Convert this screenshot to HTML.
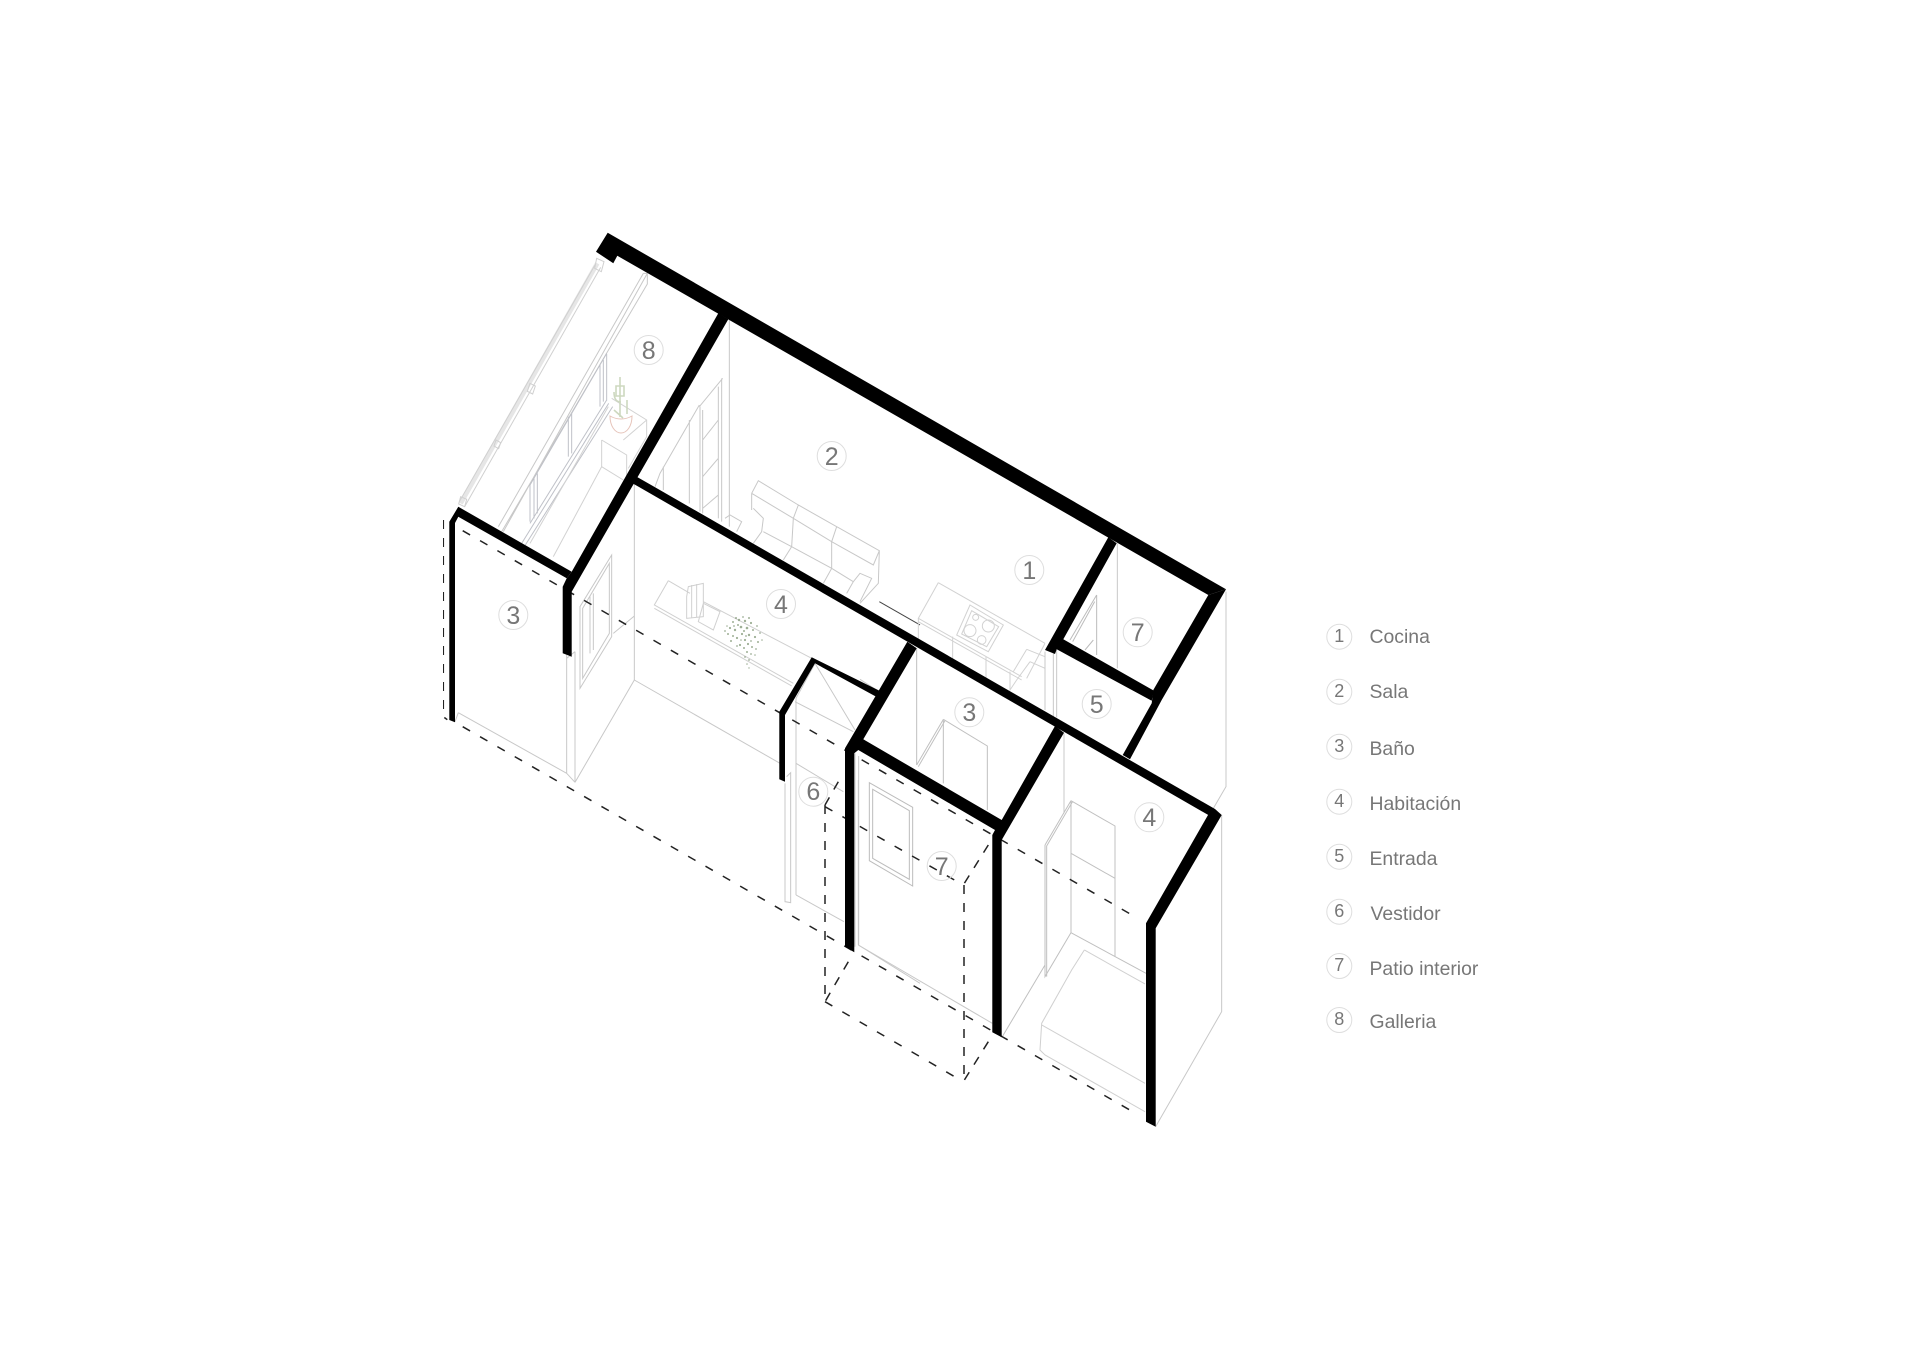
<!DOCTYPE html>
<html lang="es"><head><meta charset="utf-8"><title>Axonometría</title>
<style>html,body{margin:0;padding:0;background:#fff}svg{display:block}text{font-family:"Liberation Sans",sans-serif;fill:#777}</style>
</head><body>
<svg width="1920" height="1361" viewBox="0 0 1920 1361" xmlns="http://www.w3.org/2000/svg">
<defs><filter id="b" x="0" y="0" width="100%" height="100%"><feGaussianBlur stdDeviation="0.35"/></filter></defs>
<rect width="1920" height="1361" fill="#fff"/>
<g filter="url(#b)">
<!-- thin lines: region 1 -->
<g transform="translate(420 210) scale(.33333)" fill="none" stroke="#c8c8c8" stroke-width="3">
<path d="M532 160L122 880" stroke="#e6e6e6" stroke-width="14"/><path d="M525 165L118 875M542 172L134 890" stroke="#d0d0d0"/>
<path d="M530 145l22 10-8 30-20-10zM330 520l16 8-8 24-16-8zM228 690l14 8-6 18-14-8zM122 860l18 8-6 22-18-8z" stroke="#d0d0d0"/>
<path d="M670 190L235 950M682 190L250 965M670 190h12v32L245 965"/>
<path d="M560 430L330 825M560 570L330 940M566 580L305 1000M578 590L316 1005M540 465v125M550 450v125M560 432v140M445 620v120M455 610v120M330 825v110M342 805v120M352 790v120" stroke="#bfc1c8"/>
<path d="M575 565L680 630V680L625 775M545 690L620 735V800M545 690V770L610 810M545 770L400 1040M565 590L330 1000M610 690L680 630" stroke="#d2d2d2"/>
<path d="M928 328V950M905 505V935M895 530V925M840 590V905M848 600V910M838 590L908 505M848 690L895 630M848 800L895 745M848 895L895 855M838 585L720 790L705 830M808 630V880M730 770V840"/>
<path d="M995 850L1015 812L1135 885L1250 950L1378 1022L1360 1065L1235 995L1120 925L995 850M1135 885L1120 925M1250 950L1235 995M995 850V900M1120 925L1115 1010M1235 995V1075M1378 1022L1375 1120L1320 1180M915 925L930 915L965 935L950 965M1000 895L1030 925L1025 965L1000 1000M1030 965L1115 1010L1235 1075L1300 1115M1115 1010L1090 1050M1235 1075L1210 1120M1300 1115L1320 1090L1355 1105L1320 1175M1300 1115L1280 1150"/>
<path d="M1378 1175L1500 1245" stroke="#444"/>
<path d="M643 820V1410M643 1218L580 1270M575 1035V1280L480 1435V1190ZM568 1060V1270L488 1405V1195ZM510 1160V1330M520 1150V1320"/>
<path d="M745 1112L703 1185L1120 1420M745 1112L810 1150M850 1175L1175 1345M703 1195L1115 1428M805 1130L850 1120V1220L800 1225V1160ZM815 1125V1225M830 1122V1222M850 1180L900 1205L880 1260L835 1235Z" stroke="#d0d0d0"/>
</g>
<!-- cactus and pot -->
<g fill="none">
<path d="M620 377V417M614 392c0 8 3 10 7 10M627 400v14M614 410l9 8M616 386h8v10h-8z" stroke="#cdd8bf" stroke-width="1.6"/>
<path d="M610 416c0 10 5 17 11 17s11-7 11-17c-7 4-15 4-22 0z" stroke="#e6c4ba" stroke-width="1"/>
</g>
<!-- hanging plant -->
<g fill="#8ea284" stroke="none" opacity=".85">
<circle cx="728" cy="634" r="1"/><circle cx="730" cy="628" r="1.1"/><circle cx="733" cy="622" r="1"/><circle cx="735" cy="630" r="1.2"/><circle cx="737" cy="638" r="1.1"/><circle cx="733" cy="636" r="1"/><circle cx="739" cy="620" r="1.2"/><circle cx="741" cy="627" r="1.3"/><circle cx="742" cy="634" r="1.1"/><circle cx="745" cy="621" r="1.2"/><circle cx="747" cy="628" r="1.3"/><circle cx="745" cy="640" r="1.1"/><circle cx="749" cy="635" r="1.2"/><circle cx="751" cy="623" r="1.1"/><circle cx="753" cy="630" r="1"/><circle cx="755" cy="637" r="1.1"/><circle cx="757" cy="626" r="0.9"/><circle cx="760" cy="633" r="0.9"/><circle cx="758" cy="642" r="1"/><circle cx="762" cy="640" r="0.8"/><circle cx="736" cy="618" r="1"/><circle cx="743" cy="617" r="0.9"/><circle cx="749" cy="618" r="1"/><circle cx="725" cy="631" r="0.9"/><circle cx="731" cy="641" r="1"/><circle cx="740" cy="645" r="1.1"/><circle cx="744" cy="648" r="1"/><circle cx="748" cy="644" r="1.1"/><circle cx="752" cy="647" r="1"/><circle cx="756" cy="649" r="0.9"/><circle cx="737" cy="646" r="0.9"/><circle cx="747" cy="652" r="1"/><circle cx="751" cy="654" r="0.9"/><circle cx="755" cy="655" r="0.8"/><circle cx="745" cy="657" r="0.9"/><circle cx="749" cy="660" r="0.9"/><circle cx="747" cy="664" r="0.8"/><circle cx="749" cy="668" r="0.7"/><circle cx="738" cy="625" r="1"/><circle cx="744" cy="631" r="1"/><circle cx="751" cy="641" r="0.9"/><circle cx="727" cy="626" r="0.8"/><circle cx="734" cy="626" r="0.9"/><circle cx="746" cy="636" r="0.9"/><circle cx="741" cy="640" r="0.8"/>
</g>
<!-- thin lines: region 2 -->
<g transform="translate(800 480) scale(.33333)" fill="none" stroke="#c8c8c8" stroke-width="3">
<path d="M415 308L355 415L665 590M415 308L735 490M355 425L665 600M355 415V480M458 470V560M558 530V610M630 575V630L650 600M510 375L610 435L565 515L470 465ZM515 392L596 440L560 500L485 462Z" stroke="#d2d2d2"/>
<g stroke="#d2d2d2"><circle cx="527" cy="412" r="9"/><circle cx="510" cy="452" r="18"/><circle cx="565" cy="438" r="18"/><circle cx="545" cy="480" r="13"/></g>
<path d="M735 490L680 595M680 508L640 575M680 508L735 530M690 545L650 600M690 545L735 565" stroke="#d2d2d2"/>
<path d="M735 515V690M760 520V710M770 510V712M952 190V565"/>
<path d="M890 345V525M890 345L810 480M884 365L818 485M880 480L855 510" stroke="#bcbcbc"/>
<path d="M1278 335V920L1240 985"/>
<path d="M350 505V855M430 718V910M430 718L350 855M435 722L355 860M430 718L562 798V990" stroke="#c0c0c0"/>
<path d="M792 760V1000"/>
</g>
<!-- thin lines: region 4 (lower right) -->
<g transform="translate(800 780) scale(.33333)" fill="none" stroke="#c8c8c8" stroke-width="3">
<path d="M813 62V458M813 62L945 138V530M813 220L945 295M735 195L813 62M740 198L817 66M735 195V590L813 458M740 197V590M813 458L1038 580M735 555L607 770" stroke="#c0c0c0"/>
<path d="M853 510L1035 612M853 510L815 570L725 730L720 810L735 825L1035 995M725 735L1035 910" stroke="#d0d0d0"/>
<path d="M1265 105V695L1067 1040"/>
<path d="M175 0V495M165 0V500M175 495L577 730"/>
<path d="M208 8L338 82V318L208 242ZM218 28L328 92V298L218 235Z" stroke="#bcbcbc"/>
</g>
<!-- thin lines: region 3 (lower left) -->
<g transform="translate(420 620) scale(.33333)" fill="none" stroke="#c8c8c8" stroke-width="3">
<path d="M115 278L440 460M115 278L105 305M440 100V460L465 487M465 95V487M440 115L465 95M465 487L643 180M643 180L1080 430"/>
<path d="M1185 130L1305 330M1128 235V825M1128 235L1185 130M1128 430L1270 515M1128 825L1272 905M1095 490V845L1112 848V458L1100 470M1125 245L1300 335M1320 178L1370 210L1365 220"/>
<path d="M1305 400V980M1316 408V975M1315 975L1500 1090"/>
</g>
<!-- dashed -->
<g fill="none" stroke="#222" stroke-width="1.5">
<path d="M443.3 520V716.7l4 3" stroke-dasharray="9 9"/>
<path d="M462.7 530.7L1135 916.7" stroke-dasharray="8.5 11.5"/>
<path d="M462.7 726.7L1135 1113" stroke-dasharray="8.5 11.5"/>
<path d="M825 806.7L963.3 885" stroke-dasharray="8.5 11.5"/>
<path d="M825 1001.7L963.3 1081.7" stroke-dasharray="8.5 11.5"/>
<path d="M825 805V1001" stroke-dasharray="9 9"/>
<path d="M964 885V1081" stroke-dasharray="9 9"/>
<path d="M988.3 845L963.3 885M988.3 1041.7L963.3 1081.7M838.3 781.7L825 805M848.3 961.7L825 1001.7" stroke-dasharray="9 9"/>
</g>
<!-- black walls -->
<g fill="#000">
<polygon points="607.7,232.7 1226,589.3 1208.3,595 617.3,255.7 613.3,263.3 596,251.7"/>
<polygon points="1226,589.3 1161.7,700 1130,759.3 1122.7,755 1151.7,703.3 1153.3,690 1208.3,595"/>
<polygon points="1108.3,537.3 1116.7,543.3 1063.3,639.3 1154,690.7 1151.7,700.7 1056.7,649.3 1055,654 1045,650"/>
<polygon points="636.7,476.7 1215,809 1221.7,815 1208.3,815 633.3,483.7"/>
<polygon points="718.3,313.3 728.3,319.3 571.7,591.7 571.7,656.7 562.7,653.3 562.7,586.7 566.7,578.3 571.7,571.7"/>
<polygon points="458.3,506.7 571.7,571.7 566.7,578.3 458.3,516.7 455,523 455,722.3 449.3,720 449.3,521.7"/>
<polygon points="811.7,657.3 880,691 876.7,697 815,663.3 785,715 785,781.7 779.3,779.3 779.3,711.7"/>
<polygon points="907.3,641.7 916.7,648.3 863.3,739.3 1001.7,820 1055,726 1064,732.7 1001.7,840 1001.7,1037.3 992.3,1032.3 992.3,835 995,830 858.3,750 854.3,753.3 854.3,952.3 845,946.7 845,748.3"/>
<polygon points="1221.7,815 1208.3,814.5 1146,923.3 1146,1121.7 1155.7,1126.7 1155.7,928.3"/>
</g>
<!-- label circles -->
<g fill="none" stroke="#dedede" stroke-width="1">
<circle cx="648.7" cy="350" r="14.5"/><circle cx="831.7" cy="456" r="14.5"/><circle cx="513.3" cy="615" r="14.5"/><circle cx="781" cy="604" r="14.5"/><circle cx="1029.3" cy="570" r="14.5"/><circle cx="1137.7" cy="632.3" r="14.5"/><circle cx="1096.7" cy="704" r="14.5"/><circle cx="969.3" cy="712.3" r="14.5"/><circle cx="1149.3" cy="817.3" r="14.5"/><circle cx="941.7" cy="866" r="14.5"/><circle cx="813.3" cy="791.7" r="14.5"/>
<circle cx="1339.3" cy="636.7" r="12.5"/><circle cx="1339.3" cy="691.7" r="12.5"/><circle cx="1339.3" cy="746.7" r="12.5"/><circle cx="1339.3" cy="801.7" r="12.5"/><circle cx="1339.3" cy="856.7" r="12.5"/><circle cx="1339.3" cy="911.7" r="12.5"/><circle cx="1339.3" cy="966" r="12.5"/><circle cx="1339.3" cy="1020" r="12.5"/>
</g>
<g font-size="25" text-anchor="middle">
<text x="648.7" y="359">8</text><text x="831.7" y="465">2</text><text x="513.3" y="624">3</text><text x="781" y="613">4</text><text x="1029.3" y="579">1</text><text x="1137.7" y="641">7</text><text x="1096.7" y="713">5</text><text x="969.3" y="721">3</text><text x="1149.3" y="826">4</text><text x="941.7" y="875">7</text><text x="813.3" y="800">6</text>
</g>
<g font-size="18" text-anchor="middle">
<text x="1339.3" y="642">1</text><text x="1339.3" y="697">2</text><text x="1339.3" y="752">3</text><text x="1339.3" y="807">4</text><text x="1339.3" y="862">5</text><text x="1339.3" y="917">6</text><text x="1339.3" y="971">7</text><text x="1339.3" y="1025">8</text>
</g>
<g font-size="19.4">
<text x="1369.5" y="643">Cocina</text><text x="1369.5" y="698">Sala</text><text x="1369.5" y="755">Baño</text><text x="1369.5" y="810">Habitación</text><text x="1369.5" y="865">Entrada</text><text x="1370.5" y="920">Vestidor</text><text x="1369.5" y="975">Patio interior</text><text x="1369.5" y="1028">Galleria</text>
</g>
</g>
</svg>
</body></html>
